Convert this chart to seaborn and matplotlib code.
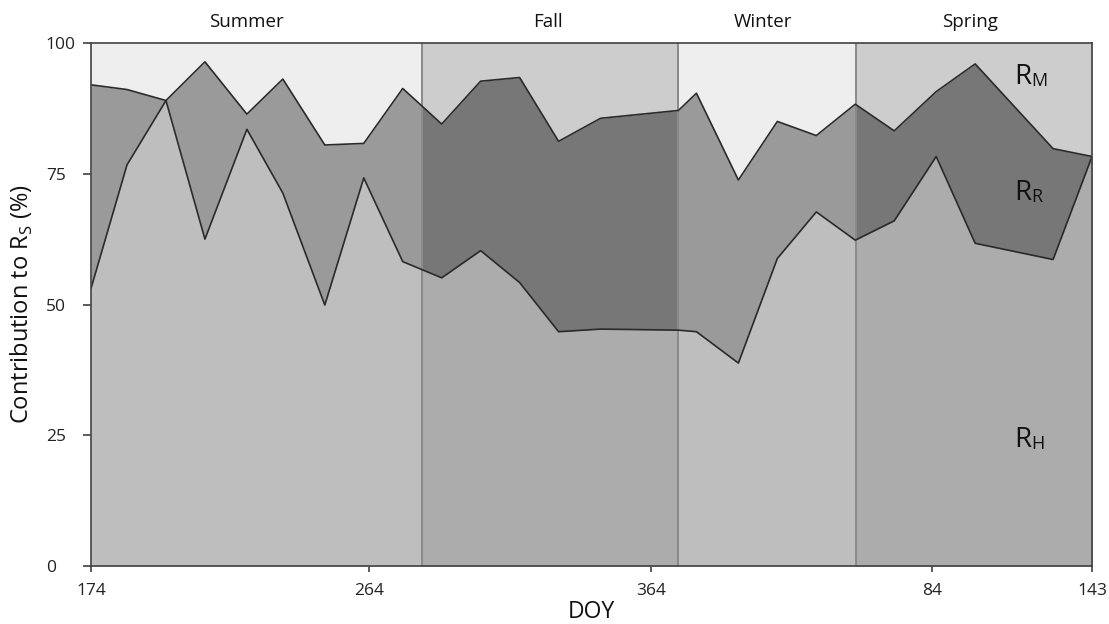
import numpy as np
import matplotlib
matplotlib.use("Agg")
import matplotlib.pyplot as plt
import seaborn as sns
from matplotlib.patches import Rectangle

# ---- data (unwrapped day of year: 366+ means next year) ----
doy = [174, 186, 199, 212, 226, 238, 252, 265, 278, 291, 304, 317, 330,
       344, 370, 376, 390, 403, 416, 429, 442, 456, 469, 495, 508]
rh = [53.1, 76.7, 89.0, 62.5, 83.5, 71.3, 49.9, 74.2, 58.2, 55.1, 60.3, 54.2, 44.8,
      45.3, 45.1, 44.8, 38.8, 58.8, 67.7, 62.3, 66.0, 78.3, 61.7, 58.6, 78.3]
rr = [38.9, 14.4, 0.0, 33.9, 2.9, 21.8, 30.6, 6.6, 33.1, 29.4, 32.4, 39.2, 36.4,
      40.3, 42.0, 45.6, 35.0, 26.2, 14.6, 26.0, 17.2, 12.4, 34.3, 21.2, 0.0]
rm = [8.0, 8.9, 11.0, 3.6, 13.6, 6.9, 19.5, 19.2, 8.7, 15.5, 7.3, 6.6, 18.8,
      14.4, 12.9, 9.6, 26.2, 15.0, 17.7, 11.7, 16.8, 9.3, 4.0, 20.2, 21.7]

seasons = ["Summer", "Fall", "Winter", "Spring"]
season_bounds = [174, 284.4, 370, 429.3, 508]
season_label_x = [225.7, 326.5, 398.2, 467.3]
xtick_pos = [174, 266.8, 360.9, 454.6, 508]
xtick_labels = ["174", "264", "364", "84", "143"]
yticks = [0, 25, 50, 75, 100]

# ---- style ----
sns.set_theme(style="white")
plt.rcParams["font.family"] = ["Open Sans", "DejaVu Sans"]

light = ["#bebebe", "#9a9a9a", "#eeeeee"]   # RH, RR, RM (summer / winter)
dark = ["#acacac", "#777777", "#cdcdcd"]    # RH, RR, RM (fall / spring)

fig = plt.figure(figsize=(11.09, 6.24), dpi=100)
ax = fig.add_axes([0.0821, 0.0929, 0.9847 - 0.0821, 0.9311 - 0.0929])

x = np.array(doy, dtype=float)
c1 = np.array(rh)
c2 = c1 + np.array(rr)
c3 = c2 + np.array(rm)
layers = [(np.zeros_like(c1), c1), (c1, c2), (c2, c3)]

for (lo, hi), col in zip(layers, light):
    ax.fill_between(x, lo, hi, color=col, lw=0, zorder=1)

for i in (1, 3):
    x0, x1 = season_bounds[i], season_bounds[i + 1]
    for (lo, hi), col in zip(layers, dark):
        coll = ax.fill_between(x, lo, hi, color=col, lw=0, zorder=1.5)
        rect = Rectangle((x0, 0), x1 - x0, 1, transform=ax.get_xaxis_transform())
        coll.set_clip_path(rect)

for b in season_bounds[1:-1]:
    ax.axvline(b, color="#8a8a8a", lw=1.4, zorder=2)

sns.lineplot(x=x, y=c1, ax=ax, color="#2a2a2a", lw=1.2, zorder=3)
sns.lineplot(x=x, y=c2, ax=ax, color="#2a2a2a", lw=1.2, zorder=3)

ax.set_xlim(season_bounds[0], season_bounds[-1])
ax.set_ylim(0, 100)
ax.set_yticks(yticks)
ax.set_yticklabels([str(v) for v in yticks], fontsize=12.5, color="#222222", ha="left")
ax.set_xticks(xtick_pos)
ax.set_xticklabels(xtick_labels, fontsize=12.5, color="#222222")
ax.tick_params(axis="y", direction="out", length=6, width=1.2, color="#404040", left=True, pad=26.5)
ax.tick_params(axis="x", direction="out", length=4, width=1.2, color="#404040", bottom=True, pad=8)

for s in ax.spines.values():
    s.set_color("#404040")
    s.set_linewidth(1.2)
    s.set_zorder(4)

ax.set_xlabel("DOY", fontsize=16.5, color="#111111", labelpad=1)
ax.set_ylabel(r"Contribution to R$_{\mathregular{S}}$ (%)", fontsize=17, color="#111111", labelpad=8)

for name, sx in zip(seasons, season_label_x):
    ax.text(sx, 1.04, name, transform=ax.get_xaxis_transform(), ha="center",
            va="center", fontsize=13.5, color="#111111")

# component labels
for big_y, sub in [(93.5, "M"), (71.3, "R"), (24.1, "H")]:
    ax.text(482, big_y, "R", fontsize=20, ha="left", va="center", color="#111111", zorder=5)
    ax.annotate(sub, xy=(482, big_y), xytext=(12.5, -3), textcoords="offset points",
                fontsize=13, ha="left", va="center", color="#111111", zorder=5)

fig.savefig("out.png", dpi=100)
